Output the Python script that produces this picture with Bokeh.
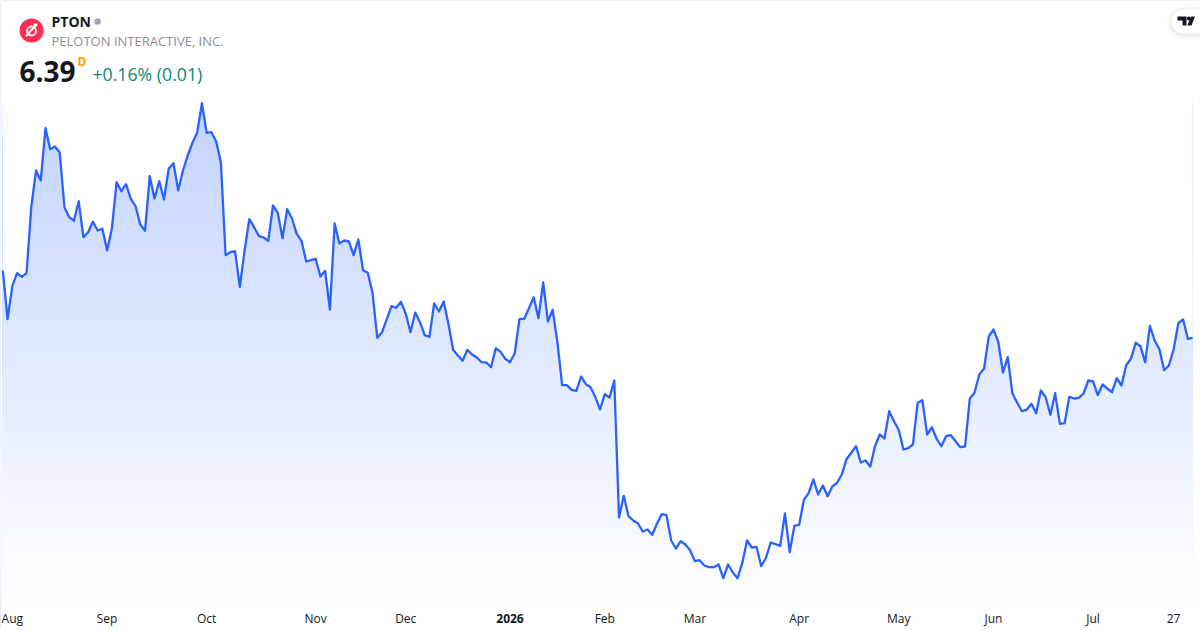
from bokeh.plotting import figure
from bokeh.embed import file_html
from bokeh.resources import INLINE
from bokeh.models import Label, FixedTicker, Range1d, BoxAnnotation, LinearAxis
import numpy as np

# Daily closes (the reference has no price axis; the last close is 6.39)
closes_aug_nov = [
 7.063,6.576,6.906,7.036,7.000,7.036,7.696,8.063,7.963,8.486,8.276,8.303,8.243,7.696,7.596,7.56,7.756,
 7.396,7.446,7.55,7.463,7.48,7.263,7.48,7.946,7.856,7.926,7.78,7.706,7.523,7.46,8.006,7.783,7.956,7.773,
 8.08,8.136,7.863,8.063,8.213,8.34,8.44,8.736,8.44,8.446,8.356,8.146,7.216,7.246,7.256,6.9,7.263,7.576,
 7.496,7.41,7.393,7.36,7.713,7.64,7.386,7.676,7.583,7.43,7.36,7.153,7.166,7.18,7.003,7.06,6.673,7.533,
 7.333,7.363,7.353,7.216,7.373,7.066,7.04,6.836,6.39,6.446,6.576,6.706,6.69,6.75]
closes_dec_mar = [
 6.63,6.446,6.643,6.546,6.416,6.4,6.733,6.653,6.753,6.53,6.27,6.213,6.16,6.27,6.223,6.193,6.146,6.143,
 6.096,6.286,6.25,6.18,6.146,6.236,6.58,6.58,6.686,6.796,6.586,6.943,6.553,6.67,6.346,5.916,5.916,5.87,
 5.86,6.003,5.926,5.896,5.796,5.673,5.826,5.793,5.963,4.593,4.81,4.606,4.563,4.533,4.453,4.473,4.42,4.53,
 4.626,4.616,4.363,4.283,4.356,4.323,4.266,4.156,4.166,4.113,4.096,4.096,4.123,3.986,4.123,4.043,3.986,
 4.136,4.363,4.293,4.3,4.106,4.19,4.343,4.326,4.31,4.633,4.246,4.51,4.52]
closes_apr_jul = [
 4.77,4.836,4.973,4.823,4.913,4.806,4.903,4.94,5.023,5.176,5.24,5.306,5.143,5.163,5.103,5.306,5.423,5.383,
 5.656,5.556,5.47,5.273,5.286,5.323,5.74,5.766,5.423,5.496,5.38,5.306,5.406,5.416,5.356,5.296,5.303,5.78,
 5.84,6.023,6.08,6.403,6.473,6.35,6.043,6.196,5.833,5.74,5.656,5.67,5.73,5.636,5.863,5.796,5.62,5.836,5.53,
 5.536,5.8,5.783,5.79,5.833,5.963,5.953,5.816,5.923,5.883,5.846,5.986,5.913,6.116,6.18,6.34,6.306,6.146,
 6.51,6.363,6.276,6.066,6.113,6.273,6.536,6.573,6.38,6.39]
closes = closes_aug_nov + closes_dec_mar + closes_apr_jul

tick_bars = [2, 22, 43, 66, 85, 127, 146, 168, 189, 209, 230, 247]
tick_labels = ["Aug", "Sep", "Oct", "Nov", "Dec", "Feb", "Mar", "Apr", "May", "Jun", "Jul", "27"]
year_bars = [107]
year_labels = ["2026"]

symbol = "PTON"
company = "PELOTON INTERACTIVE, INC."
last_price = "6.39"
interval = "D"
change = "+0.16% (0.01)"

W, H, FRAME_H = 1200, 630, 604
PX_PER_BAR, X0_PX = 4.74, 2.33
PX_PER_UNIT, Y_TOP = 100.0, 9.763

x_start = -X0_PX / PX_PER_BAR
x_end = x_start + W / PX_PER_BAR
y_end = Y_TOP
y_start = Y_TOP - FRAME_H / PX_PER_UNIT

def px(v):
    return x_start + v / PX_PER_BAR

def py(v):
    return Y_TOP - v / PX_PER_UNIT

p = figure(width=W, height=H, output_backend="svg", toolbar_location=None,
           x_range=Range1d(x_start, x_end), y_range=Range1d(y_start, y_end),
           y_axis_location=None, min_border=0, min_border_bottom=H - FRAME_H,
           background_fill_color="#ffffff", border_fill_color="#ffffff",
           outline_line_color=None)
p.grid.visible = False
p.styles = {"position": "absolute", "left": "0", "top": "0",
            "outline": "1px solid #e0e3eb", "outline-offset": "-1px", "border-radius": "3px"}

def style_axis(ax, ticks, labels, standoff, font_style):
    ax.ticker = FixedTicker(ticks=ticks)
    ax.major_label_overrides = dict(zip(ticks, labels))
    ax.axis_line_color = None
    ax.major_tick_line_color = None
    ax.minor_tick_line_color = None
    ax.major_tick_in = 0
    ax.major_tick_out = 0
    ax.major_label_standoff = standoff
    ax.major_label_text_font = "Open Sans"
    ax.major_label_text_font_size = "12px"
    ax.major_label_text_font_style = font_style
    ax.major_label_text_color = "#131722"

style_axis(p.xaxis[0], tick_bars, tick_labels, 5, "normal")
year_axis = LinearAxis()
style_axis(year_axis, year_bars, year_labels, -16, "bold")
p.add_layout(year_axis, "below")

bars = np.arange(len(closes))
prices = np.array(closes)

# vertical fade under the line: nested bands, then white above the line
levels = np.linspace(py(100), y_start, 100)
for lvl in levels:
    a = 0.28 * (lvl - y_start) / (py(100) - y_start)
    r, g, b = [int(round(255 - (255 - c) * a)) for c in (41, 98, 255)]
    p.quad(left=bars[0], right=bars[-1], bottom=y_start, top=lvl,
           fill_color=f"#{r:02x}{g:02x}{b:02x}", line_color=None)
p.varea(x=bars, y1=prices, y2=np.full(len(bars), y_end), fill_color="#ffffff")
p.line(bars, prices, line_color="#2962ff", line_width=2.3, line_join="round")

# header
def label(text, x, y, size, color, style="normal", align="left"):
    p.add_layout(Label(x=px(x), y=py(y), text=text, text_font="Open Sans", text_font_size=size,
                       text_color=color, text_font_style=style, text_baseline="middle",
                       text_align=align))

p.scatter([px(31)], [py(30)], size=24, color="#ff2d4f", line_color=None)
p.scatter([px(31)], [py(30.5)], size=9, fill_color=None, line_color="#ffffff", line_width=1.8)
p.line([px(25.5), px(36)], [py(35.5), py(24)], line_color="#ffffff", line_width=2)
p.line([px(33), px(37)], [py(24), py(24)], line_color="#ffffff", line_width=2)
p.scatter([px(97)], [py(21)], size=6.5, color="#a3a6af", line_color=None)

label(symbol, 51, 20.5, "14px", "#131722", "bold")
label(company, 51, 40, "13px", "#8c8f98")
label(last_price, 19, 70.5, "28px", "#131722", "bold")
label(interval, 77, 61, "12px", "#ff9800", "bold")
label(change, 92, 73.5, "17.7px", "#0b8a72")

# TradingView badge
for grow, alpha in ((5, 0.008), (4, 0.01), (3, 0.012), (2, 0.015), (1, 0.018)):
    p.add_layout(BoxAnnotation(left=px(1171 - grow), right=px(1230), top=py(9 - grow + 1), bottom=py(33 + grow + 1),
                               fill_color="#000000", fill_alpha=alpha, line_color=None,
                               border_radius=12 + grow))
p.add_layout(BoxAnnotation(left=px(1171), right=px(1230), top=py(9), bottom=py(33),
                           fill_color="#ffffff", fill_alpha=1, line_color=None, border_radius=12))
p.patch([px(v) for v in (1177, 1186, 1186, 1182, 1182, 1177)],
        [py(v) for v in (16, 16, 25, 25, 20, 20)], color="#131722", line_color=None, level="overlay")
p.patch([px(v) for v in (1190.5, 1194.5, 1191, 1186.8)],
        [py(v) for v in (16, 16, 25, 25)], color="#131722", line_color=None, level="overlay")
p.scatter([px(1188.3)], [py(18)], size=4, color="#131722", line_color=None, level="overlay")

open("out.html", "w").write(file_html(p, INLINE))
